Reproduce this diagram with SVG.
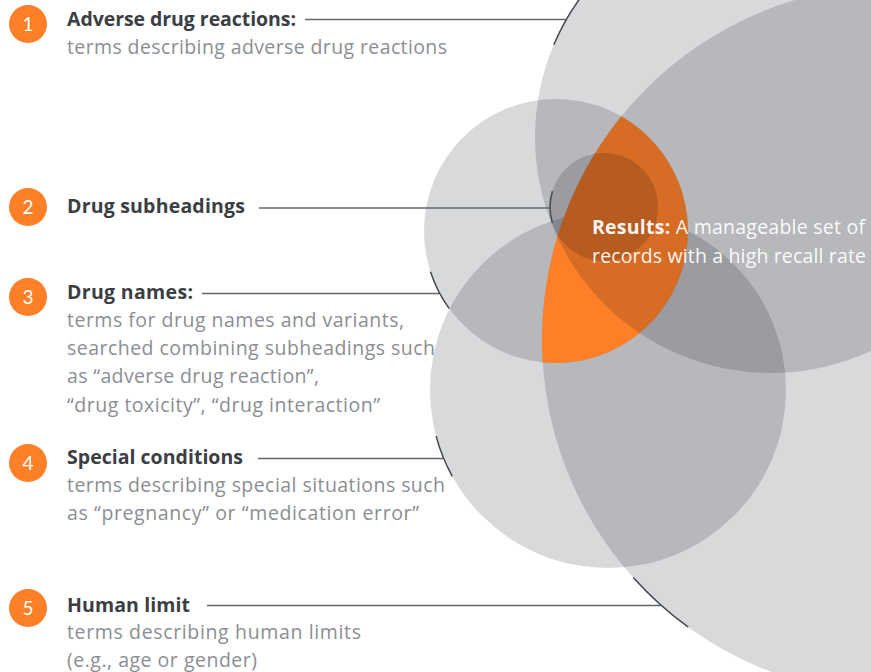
<svg xmlns="http://www.w3.org/2000/svg" width="871" height="672" viewBox="0 0 871 672">
<style>
.set{fill:#000614;fill-opacity:0.153}
.num{fill:#fd7f27}
.numt{font-family:Lato,"Open Sans",sans-serif;font-size:19px;fill:#ffffff;text-anchor:middle}
.h{font-family:"Open Sans",Lato,sans-serif;font-weight:bold;font-size:19.5px;fill:#3b3e43}
.s{font-family:"Open Sans",Lato,sans-serif;font-size:19.5px;fill:#8b8e92}
.res{font-family:"Open Sans",Lato,sans-serif;font-size:19.5px;fill:#ffffff;fill-opacity:0.95}
.conn{stroke:#63676c;stroke-width:1.4;fill:none}
.tick{stroke:#45484d;stroke-width:1.5;fill:none}
</style>
<rect x="0" y="0" width="871" height="672" fill="#ffffff"/>
<g id="sets">
  <g id="set-drug-names"><circle class="set" cx="556" cy="231" r="132"/></g>
  <g id="set-special-conditions"><circle class="set" cx="608" cy="390" r="178"/></g>
  <g id="set-human-limit"><circle class="set" cx="897" cy="340" r="355"/></g>
  <g id="results-area"><path d="M621.3,116.3 A132,132 0 0 1 542.7,362.3 A355,355 0 0 1 621.3,116.3 Z" fill="#fe7f27"/></g>
  <g id="set-adverse-drug-reactions"><circle class="set" cx="771" cy="137" r="236"/></g>
  <g id="set-drug-subheadings"><circle class="set" cx="604" cy="207" r="54"/></g>
</g>
<g id="results-label">
  <text class="res" x="592" y="234" textLength="273" lengthAdjust="spacing"><tspan font-weight="bold">Results:</tspan> A manageable set of</text>
  <text class="res" x="592" y="263" textLength="274" lengthAdjust="spacing">records with a high recall rate</text>
</g>
<g id="connectors">
  <line class="conn" x1="305" y1="19.5" x2="566.6" y2="19.5"/>
  <path class="tick" d="M553.8,44.8 A236,236 0 0 1 585,-8.3"/>
  <line class="conn" x1="259" y1="208" x2="550" y2="208"/>
  <path class="tick" d="M552.4,191.2 A54,54 0 0 0 552.4,222.8"/>
  <line class="conn" x1="202" y1="293.5" x2="439.5" y2="293.5"/>
  <path class="tick" d="M430.5,271.8 A132,132 0 0 0 449.2,308.6"/>
  <line class="conn" x1="258" y1="458.5" x2="443.5" y2="458.5"/>
  <path class="tick" d="M436.1,436.1 A178,178 0 0 0 452.3,476.3"/>
  <line class="conn" x1="207" y1="605.5" x2="660.8" y2="605.5"/>
  <path class="tick" d="M633.2,577.5 A355,355 0 0 0 688.3,627.2"/>
</g>
<g id="item-1">
  <circle class="num" cx="28" cy="24" r="19"/>
  <text class="numt" x="28" y="30.5">1</text>
  <text class="h" x="67" y="26" textLength="229" lengthAdjust="spacing">Adverse drug reactions:</text>
  <text class="s" x="67" y="53.5" textLength="380" lengthAdjust="spacing">terms describing adverse drug reactions</text>
</g>
<g id="item-2">
  <circle class="num" cx="28" cy="207" r="19"/>
  <text class="numt" x="28" y="213.5">2</text>
  <text class="h" x="67" y="212.5" textLength="178" lengthAdjust="spacing">Drug subheadings</text>
</g>
<g id="item-3">
  <circle class="num" cx="28" cy="297" r="19"/>
  <text class="numt" x="28" y="303.5">3</text>
  <text class="h" x="67" y="299" textLength="126" lengthAdjust="spacing">Drug names:</text>
  <text class="s" x="67" y="327" textLength="337" lengthAdjust="spacing">terms for drug names and variants,</text>
  <text class="s" x="67" y="355" textLength="368" lengthAdjust="spacing">searched combining subheadings such</text>
  <text class="s" x="67" y="383" textLength="252" lengthAdjust="spacing">as “adverse drug reaction”,</text>
  <text class="s" x="67" y="411.5" textLength="313" lengthAdjust="spacing">“drug toxicity”, “drug interaction”</text>
</g>
<g id="item-4">
  <circle class="num" cx="28" cy="463" r="19"/>
  <text class="numt" x="28" y="469.5">4</text>
  <text class="h" x="67" y="463.5" textLength="176" lengthAdjust="spacing">Special conditions</text>
  <text class="s" x="67" y="491.5" textLength="378" lengthAdjust="spacing">terms describing special situations such</text>
  <text class="s" x="67" y="519.5" textLength="352" lengthAdjust="spacing">as “pregnancy” or “medication error”</text>
</g>
<g id="item-5">
  <circle class="num" cx="28" cy="608" r="19"/>
  <text class="numt" x="28" y="614.5">5</text>
  <text class="h" x="67" y="611.5" textLength="123" lengthAdjust="spacing">Human limit</text>
  <text class="s" x="67" y="638.5" textLength="294" lengthAdjust="spacing">terms describing human limits</text>
  <text class="s" x="67" y="666.5" textLength="190" lengthAdjust="spacing">(e.g., age or gender)</text>
</g>
</svg>
